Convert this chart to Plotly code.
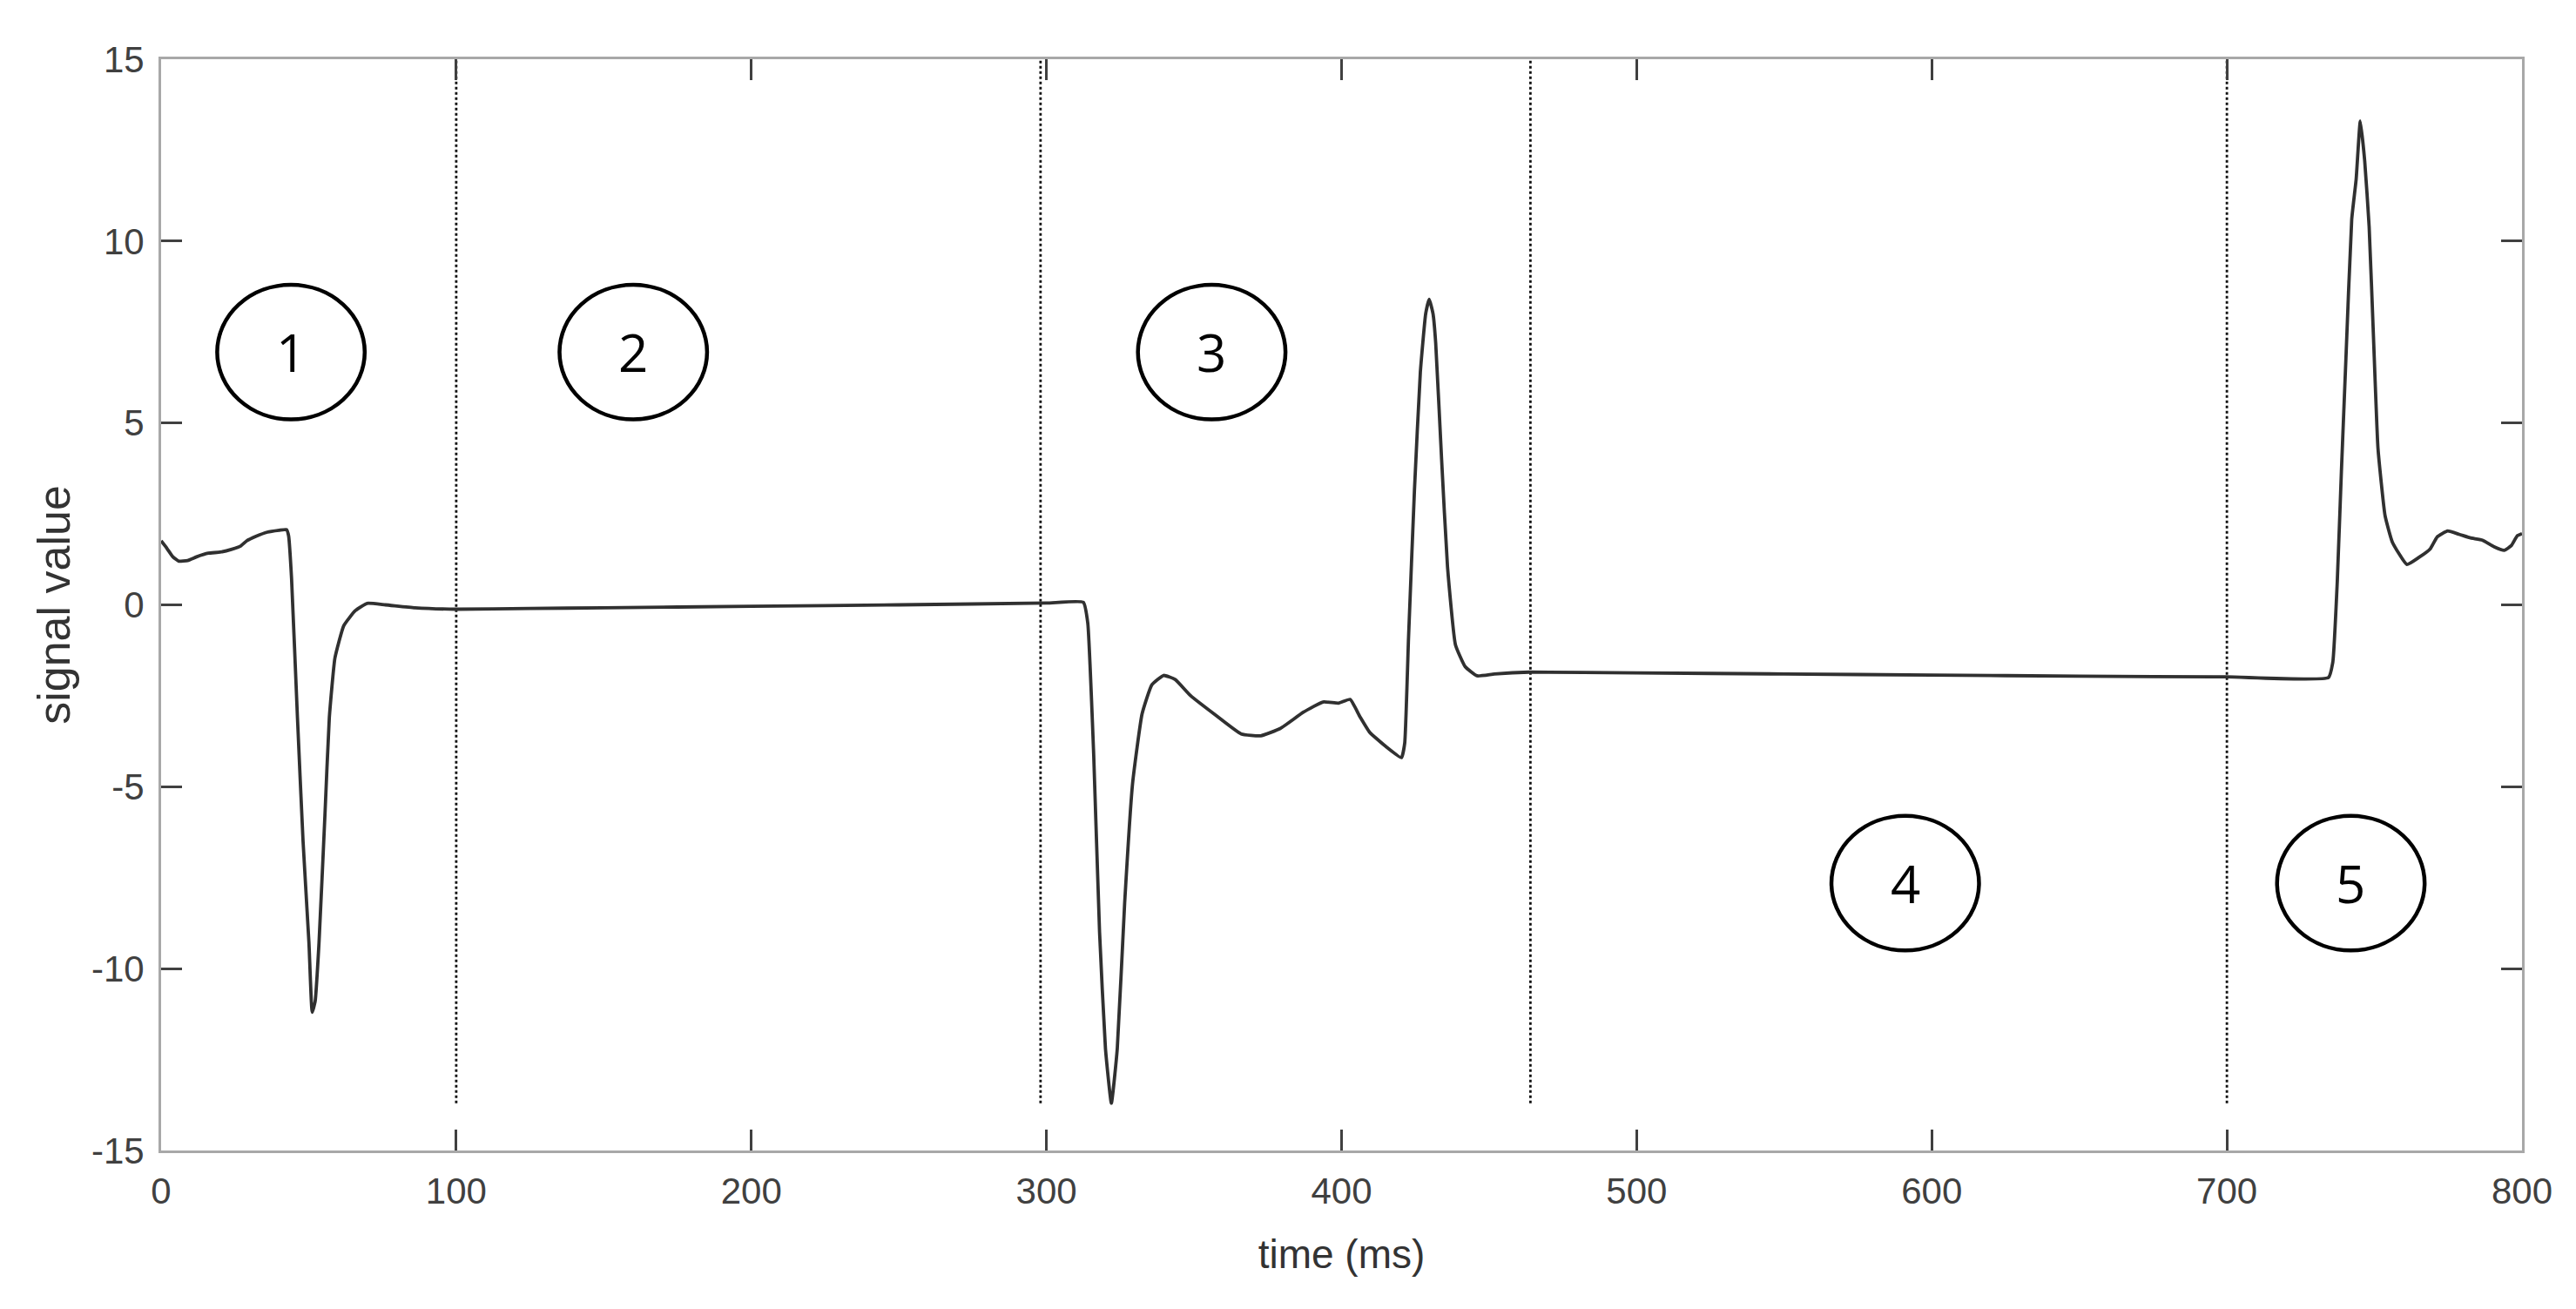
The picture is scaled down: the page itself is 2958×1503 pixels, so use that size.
import plotly.graph_objects as go

# ---- data ----
time_ms = [0, 2, 4, 6, 9, 12, 16, 20, 24, 27, 29, 32, 36, 40, 42.5, 43.2, 44.2, 46.2, 48.1, 50.1,
           51.2, 52.2, 53.5, 55.5, 57, 58.9, 61.9, 65.8, 69.8, 76, 86, 100, 125, 150, 200, 250,
           300, 312.5, 314, 316, 318, 320, 322, 324, 326.5, 329.2, 332.4, 335.7, 339.7, 343.6,
           348.9, 356.8, 366, 372.6, 379.2, 387.1, 393.7, 399, 402.9, 406.2, 409.5, 414.8, 420.3,
           421.4, 422.7, 424.7, 426.7, 428.5, 429.7, 431, 431.9, 433.9, 435.9, 438.6, 441.9, 445.9,
           451.8, 463.6, 500, 550, 600, 650, 700, 734.4, 735.9, 737.4, 738.8, 740.3, 742.3, 743.8,
           745.2, 746.7, 748.2, 749.7, 751.2, 753.6, 756.1, 761, 765, 768.9, 771.3, 774.8, 778.7,
           782.6, 786.6, 790.5, 794, 796.4, 798.4, 800]
signal_value = [1.76, 1.55, 1.32, 1.2, 1.22, 1.32, 1.42, 1.45, 1.53, 1.62, 1.76, 1.88, 2.0, 2.05,
                2.07, 1.9, 0.73, -3.1, -6.5, -9.3, -11.2, -10.9, -9.3, -5.8, -3.1, -1.46, -0.57,
                -0.16, 0.04, 0.0, -0.08, -0.12, -0.1, -0.08, -0.04, 0.0, 0.05, 0.07, -0.5, -4.1,
                -9.0, -12.2, -13.7, -12.2, -8.2, -4.9, -3.0, -2.2, -1.94, -2.05, -2.5, -3.0, -3.55,
                -3.6, -3.4, -2.95, -2.67, -2.7, -2.6, -3.07, -3.5, -3.88, -4.2, -3.8, -0.9, 3.15,
                6.4, 8.0, 8.4, 8.0, 7.2, 4.0, 1.05, -1.1, -1.7, -1.95, -1.9, -1.85, -1.87, -1.9,
                -1.93, -1.96, -1.98, -2.0, -1.57, 0.63, 3.67, 6.7, 10.6, 11.7, 13.3, 12.2, 10.4,
                7.3, 4.3, 2.45, 1.72, 1.11, 1.3, 1.54, 1.87, 2.03, 1.94, 1.84, 1.78, 1.6, 1.5,
                1.63, 1.9, 1.96]

phase_boundaries_ms = [100, 298, 464, 700]
boundary_bottom = -13.7
boundary_top = 15

phase_labels = ["1", "2", "3", "4", "5"]
phase_label_x = [44, 160, 356, 591, 742]
phase_label_y = [6.95, 6.95, 6.95, -7.65, -7.65]

x_ticks = [0, 100, 200, 300, 400, 500, 600, 700, 800]
x_tick_text = ["0", "100", "200", "300", "400", "500", "600", "700", "800"]
y_ticks = [-15, -10, -5, 0, 5, 10, 15]
y_tick_text = ["-15", "-10", "-5", "0", "5", "10", "15"]

# ---- figure ----
fig = go.Figure()

for b in phase_boundaries_ms:
    fig.add_trace(go.Scatter(x=[b, b], y=[boundary_bottom, boundary_top], mode="lines",
                             line=dict(color="#111111", width=2.8, dash="dot"),
                             showlegend=False, hoverinfo="skip"))

fig.add_trace(go.Scatter(x=time_ms, y=signal_value, mode="lines",
                         line=dict(color="#303030", width=3.8, shape="spline", smoothing=0.4),
                         showlegend=False))

ell_w = 25.0   # half width in ms
ell_h = 1.85   # half height in signal units
for lab, cx, cy in zip(phase_labels, phase_label_x, phase_label_y):
    fig.add_shape(type="circle", xref="x", yref="y",
                  x0=cx - ell_w, x1=cx + ell_w, y0=cy - ell_h, y1=cy + ell_h,
                  line=dict(color="black", width=4.5), layer="above")
    fig.add_annotation(x=cx, y=cy, text=lab, showarrow=False, xref="x", yref="y",
                       font=dict(family="Open Sans", size=60, color="black"))

axis_common = dict(showline=True, linecolor="#a8a8a8", linewidth=3, mirror="ticks",
                   ticks="inside", ticklen=24, tickwidth=2.5, tickcolor="#404040",
                   showgrid=False, zeroline=False, automargin=False,
                   tickfont=dict(family="Liberation Sans, Arial", size=42, color="#404040"))

fig.update_xaxes(range=[0, 800], tickvals=x_ticks, ticktext=x_tick_text, ticklabelstandoff=8,
                 title=dict(text="time (ms)", standoff=34,
                            font=dict(family="Liberation Sans, Arial", size=46, color="#333333")),
                 **axis_common)
fig.update_yaxes(range=[-15, 15], tickvals=y_ticks, ticktext=y_tick_text, ticklabelstandoff=8,
                 title=dict(text="signal value", standoff=8,
                            font=dict(family="Liberation Sans, Arial", size=52, color="#333333")),
                 **axis_common)

fig.update_layout(width=2958, height=1503,
                  margin=dict(l=177, r=70, t=60, b=190),
                  plot_bgcolor="white", paper_bgcolor="white")

fig.write_html("out.html")
